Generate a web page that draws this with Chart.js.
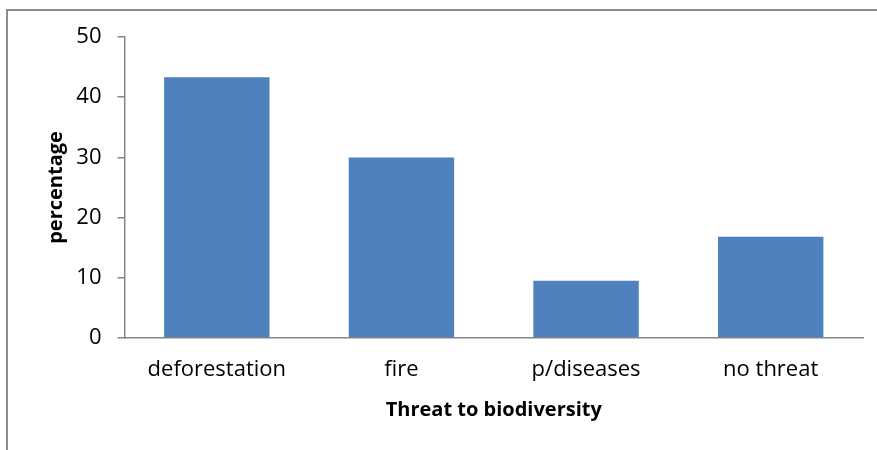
<!DOCTYPE html>
<html>
<head>
<meta charset="utf-8">
<script src="https://cdn.jsdelivr.net/npm/chart.js@4/dist/chart.umd.min.js"></script>
<style>
  html, body { margin: 0; padding: 0; background: #fff; }
  #wrap { position: relative; width: 877px; height: 450px; }
</style>
</head>
<body>
<div id="wrap"><canvas id="chart" width="877" height="450"></canvas></div>
<script>
'use strict';

// dados
const categories = ['deforestation', 'fire', 'p/diseases', 'no threat'];
const percentages = [43.3, 30, 9.5, 16.8];
const yTicks = [0, 10, 20, 30, 40, 50];

const axisColor = '#868686';
const barColor = '#4F81BD';
const fontFamily = '"Open Sans", "Noto Sans", sans-serif';

// moldura cinzenta do gráfico (só esquerda e topo ficam visíveis)
const framePlugin = {
    id: 'frame',
    beforeDraw(chart) {
        const ctx = chart.ctx;
        ctx.save();
        ctx.fillStyle = '#fff';
        ctx.fillRect(0, 0, chart.width, chart.height);
        ctx.strokeStyle = '#8c8c8c';
        ctx.lineWidth = 2;
        ctx.beginPath();
        ctx.moveTo(7, chart.height + 2);
        ctx.lineTo(7, 10);
        ctx.lineTo(chart.width + 2, 10);
        ctx.stroke();
        ctx.restore();
    }
};

new Chart(document.getElementById('chart').getContext('2d'), {
    type: 'bar',
    data: {
        labels: categories,
        datasets: [{
            data: percentages,
            backgroundColor: barColor,
            borderWidth: 0,
            categoryPercentage: 1,
            barPercentage: 0.571
        }]
    },
    options: {
        responsive: false,
        animation: false,
        layout: { padding: { top: 37, right: 14, left: 0, bottom: 0 } },
        plugins: { legend: { display: false }, tooltip: { enabled: false } },
        scales: {
            x: {
                grid: { display: false, drawTicks: false },
                border: { display: true, color: axisColor, width: 1.5 },
                ticks: { color: '#000', padding: 19, font: { family: fontFamily, size: 22 } },
                title: {
                    display: true,
                    text: 'Threat to biodiversity',
                    color: '#000',
                    padding: { top: 0, bottom: 28 },
                    font: { family: fontFamily, size: 20, weight: 'bold' }
                },
                afterFit: (s) => { s.height = 112; s.paddingLeft = 0; s.paddingRight = 0; }
            },
            y: {
                min: 0,
                max: 50,
                afterBuildTicks: (s) => { s.ticks = yTicks.map(v => ({ value: v })); },
                grid: { display: true, drawOnChartArea: false, drawTicks: true, tickLength: 7, color: axisColor, lineWidth: 1.5 },
                border: { display: true, color: axisColor, width: 1.5 },
                ticks: { color: '#000', padding: 16, font: { family: fontFamily, size: 22 } },
                title: {
                    display: true,
                    text: 'percentage',
                    color: '#000',
                    padding: { top: 44, bottom: 0 },
                    font: { family: fontFamily, size: 20, weight: 'bold' }
                },
                afterFit: (s) => { s.width = 124.5; s.paddingTop = 0; s.paddingBottom = 0; }
            }
        }
    },
    plugins: [framePlugin]
});
</script>
</body>
</html>
